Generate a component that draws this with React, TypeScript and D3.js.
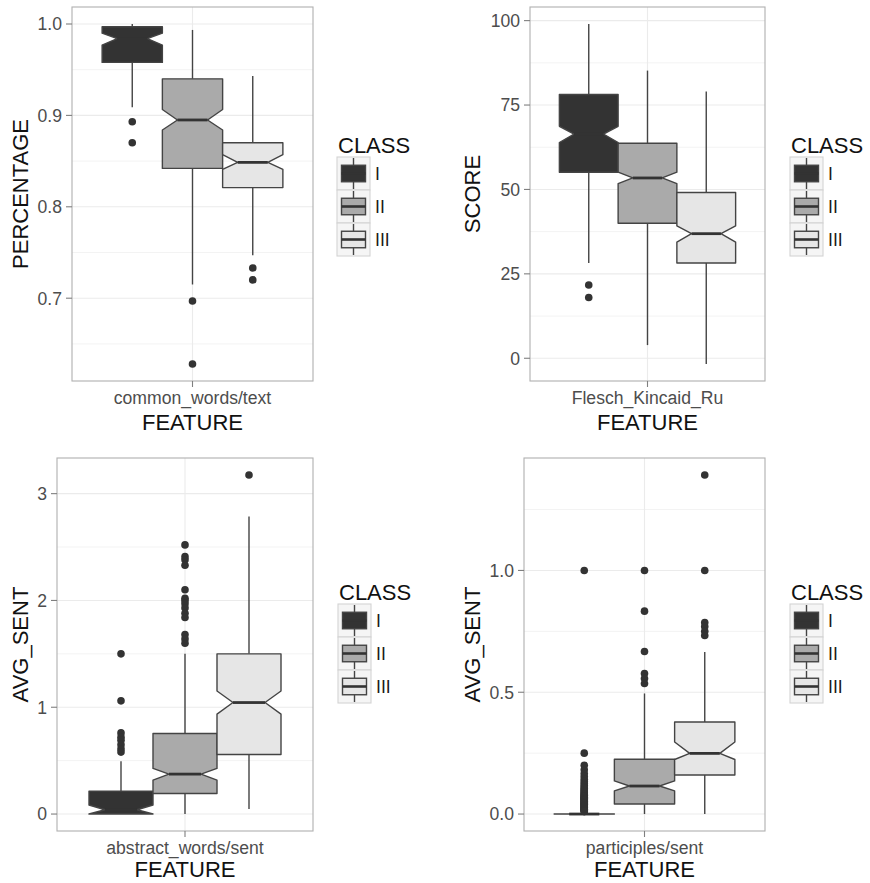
import * as d3 from "d3";

const classes = ["I", "II", "III"];

// each row: [whisker low, Q1, notch low, median, notch high, Q3, whisker high]
const commonWordsStats = [
  [0.909, 0.958, 0.977, 0.984, 0.990, 0.997, 1.0],
  [0.715, 0.842, 0.884, 0.895, 0.9065, 0.940, 0.9935],
  [0.747, 0.821, 0.841, 0.8486, 0.857, 0.870, 0.943],
];
const commonWordsOutliers = [[0.893, 0.870], [0.697, 0.628], [0.733, 0.720]];
const commonWordsTicks = [0.7, 0.8, 0.9, 1.0];

const fleschStats = [
  [28.2, 55.1, 63.9, 66.4, 68.7, 78.1, 99.0],
  [3.9, 40.0, 51.7, 53.4, 55.1, 63.7, 85.2],
  [-1.7, 28.2, 34.4, 36.9, 39.2, 49.1, 79.0],
];
const fleschOutliers = [[21.7, 18.0], [], []];
const fleschTicks = [0, 25, 50, 75, 100];

const abstractStats = [
  [0, 0, 0.0, 0.04, 0.085, 0.215, 0.495],
  [0, 0.193, 0.318, 0.374, 0.427, 0.754, 1.5],
  [0.047, 0.558, 0.935, 1.044, 1.152, 1.5, 2.785],
];
const abstractOutliers = [
  [1.5, 1.06, 0.76, 0.72, 0.69, 0.65, 0.61, 0.58],
  [2.52, 2.41, 2.38, 2.33, 2.1, 2.02, 2.0, 1.97, 1.93, 1.88, 1.84, 1.68, 1.64, 1.6],
  [3.175],
];
const abstractTicks = [0, 1, 2, 3];

const participlesStats = [
  [0, 0, 0, 0, 0, 0, 0],
  [0, 0.041, 0.095, 0.115, 0.136, 0.225, 0.495],
  [0, 0.16, 0.224, 0.249, 0.296, 0.378, 0.665],
];
const participlesOutliers = [
  [1.0, 0.25, 0.2, 0.1818, 0.1667, 0.1538, 0.1429, 0.1333, 0.125, 0.1176, 0.1111, 0.1053, 0.1,
    0.0952, 0.0909, 0.087, 0.0833, 0.08, 0.0769, 0.0741, 0.0714, 0.069, 0.0667, 0.0645, 0.0625,
    0.06, 0.0588, 0.0556, 0.0526, 0.05, 0.0476, 0.0455, 0.0435, 0.0417, 0.04, 0.037, 0.0345,
    0.0333, 0.0303, 0.0286, 0.027, 0.025, 0.0222, 0.02, 0.0182, 0.0167, 0.0143, 0.0125, 0.01],
  [1.0, 0.833, 0.667, 0.577, 0.556, 0.536],
  [1.392, 1.0, 0.786, 0.77, 0.75, 0.733],
];
const participlesTicks = [0, 0.5, 1.0];

const fills = ["#333333", "#aaaaaa", "#e6e6e6"];
const font = "'Liberation Sans', Arial, Helvetica, sans-serif";

const panels = [
  { feature: "common_words/text", yLabel: "PERCENTAGE", stats: commonWordsStats, outliers: commonWordsOutliers,
    ticks: commonWordsTicks, fmt: ".1f", x0: 72, x1: 313, y0: 7, y1: 381, yTitleX: 20, legendX: 337, legendY: 153, titleOff: 49 },
  { feature: "Flesch_Kincaid_Ru", yLabel: "SCORE", stats: fleschStats, outliers: fleschOutliers,
    ticks: fleschTicks, fmt: "d", x0: 530, x1: 765, y0: 7, y1: 381, yTitleX: 472, legendX: 790, legendY: 153, titleOff: 49 },
  { feature: "abstract_words/sent", yLabel: "AVG_SENT", stats: abstractStats, outliers: abstractOutliers,
    ticks: abstractTicks, fmt: "d", x0: 57, x1: 313, y0: 458, y1: 831, yTitleX: 20, legendX: 338, legendY: 600, titleOff: 46 },
  { feature: "participles/sent", yLabel: "AVG_SENT", stats: participlesStats, outliers: participlesOutliers,
    ticks: participlesTicks, fmt: ".1f", x0: 524, x1: 765, y0: 458, y1: 831, yTitleX: 472, legendX: 790, legendY: 600, titleOff: 46 },
];

function BoxPanel({ p }) {
  const all = p.stats.flat().concat(p.outliers.flat());
  const [lo, hi] = d3.extent(all);
  const pad = (hi - lo) * 0.05;
  const y = d3.scaleLinear([lo - pad, hi + pad], [p.y1, p.y0]);
  const xf = d3.scaleBand([p.feature], [p.x0, p.x1]).paddingInner(0).paddingOuter(1 / 6);
  const xc = d3.scaleBand(classes, [0, xf.bandwidth()]);
  const fmt = d3.format(p.fmt);
  const step = p.ticks[1] - p.ticks[0];
  const [dlo, dhi] = y.domain();
  const minor = d3.range(p.ticks[0] - step / 2, dhi, step).filter((v) => v > dlo && v < dhi);
  const xMid = xf(p.feature) + xf.bandwidth() / 2;
  const line = d3.line();

  return (
    <g>
      <rect x={p.x0} y={p.y0} width={p.x1 - p.x0} height={p.y1 - p.y0} fill="#fff" />
      {minor.map((v) => (
        <line key={"m" + v} x1={p.x0} x2={p.x1} y1={y(v)} y2={y(v)} stroke="#f3f3f3" strokeWidth={1} />
      ))}
      {p.ticks.map((v) => (
        <line key={"g" + v} x1={p.x0} x2={p.x1} y1={y(v)} y2={y(v)} stroke="#ebebeb" strokeWidth={1.1} />
      ))}
      <line x1={xMid} x2={xMid} y1={p.y0} y2={p.y1} stroke="#ebebeb" strokeWidth={1.1} />

      {classes.map((c, i) => {
        const [wl, q1, nl, med, nu, q3, wh] = p.stats[i];
        const bx0 = xf(p.feature) + xc(c);
        const bx1 = bx0 + xc.bandwidth();
        const cx = (bx0 + bx1) / 2;
        const ind = 0.25 * (bx1 - bx0);
        const pts = [
          [bx0, y(q3)], [bx0, y(nu)], [bx0 + ind, y(med)], [bx0, y(nl)], [bx0, y(q1)],
          [bx1, y(q1)], [bx1, y(nl)], [bx1 - ind, y(med)], [bx1, y(nu)], [bx1, y(q3)],
        ];
        return (
          <g key={c}>
            <line x1={cx} x2={cx} y1={y(q3)} y2={y(wh)} stroke="#444" strokeWidth={1.4} />
            <line x1={cx} x2={cx} y1={y(q1)} y2={y(wl)} stroke="#444" strokeWidth={1.4} />
            <path d={line(pts) + "Z"} fill={fills[i]} stroke="#444" strokeWidth={1.4} strokeLinejoin="round" />
            <line x1={bx0 + ind} x2={bx1 - ind} y1={y(med)} y2={y(med)} stroke="#333" strokeWidth={2.8} />
            {p.outliers[i].map((v, j) => (
              <circle key={j} cx={cx} cy={y(v)} r={3.8} fill="#333" />
            ))}
          </g>
        );
      })}

      <rect x={p.x0} y={p.y0} width={p.x1 - p.x0} height={p.y1 - p.y0} fill="none" stroke="#b0b0b0" strokeWidth={1.1} />

      {/* y axis */}
      {p.ticks.map((v) => (
        <g key={"t" + v}>
          <line x1={p.x0 - 6} x2={p.x0} y1={y(v)} y2={y(v)} stroke="#7f7f7f" strokeWidth={1.1} />
          <text x={p.x0 - 10} y={y(v)} dy="0.36em" textAnchor="end" fontSize={17.6} fill="#4d4d4d" fontFamily={font}>
            {fmt(v)}
          </text>
        </g>
      ))}
      <text transform={`translate(${p.yTitleX},${(p.y0 + p.y1) / 2}) rotate(-90)`} dy="0.36em" textAnchor="middle"
        fontSize={22} fill="#111" fontFamily={font}>
        {p.yLabel}
      </text>

      {/* x axis */}
      <line x1={xMid} x2={xMid} y1={p.y1} y2={p.y1 + 6} stroke="#7f7f7f" strokeWidth={1.1} />
      <text x={xMid} y={p.y1 + 23} textAnchor="middle" fontSize={17.6} fill="#4d4d4d" fontFamily={font}>
        {p.feature}
      </text>
      <text x={xMid} y={p.y1 + p.titleOff} textAnchor="middle" fontSize={22} fill="#111" fontFamily={font}>
        FEATURE
      </text>

      {/* legend */}
      <text x={p.legendX + 1} y={p.legendY} fontSize={22} fill="#111" fontFamily={font}>CLASS</text>
      {classes.map((c, i) => {
        const kx = p.legendX;
        const ky = p.legendY + 4 + i * 33;
        const k = 33;
        return (
          <g key={"k" + c}>
            <rect x={kx} y={ky} width={k} height={k} fill="#f5f5f5" stroke="#d4d4d4" strokeWidth={1.1} />
            <line x1={kx + k / 2} x2={kx + k / 2} y1={ky + 1} y2={ky + k - 1} stroke="#444" strokeWidth={1.4} />
            <rect x={kx + 4.5} y={ky + k * 0.25} width={k - 9} height={k * 0.5} fill={fills[i]} stroke="#444" strokeWidth={1.4} />
            <line x1={kx + 4.5} x2={kx + k - 4.5} y1={ky + k / 2} y2={ky + k / 2} stroke="#333" strokeWidth={2.6} />
            <text x={kx + 38} y={ky + k / 2} dy="0.36em" fontSize={17.6} fill="#1a1a1a" fontFamily={font}>{c}</text>
          </g>
        );
      })}
    </g>
  );
}

export default function App() {
  return (
    <svg width={870} height={883} style={{ position: "absolute", left: 0, top: 0, background: "#fff" }}>
      <rect width={870} height={883} fill="#fff" />
      {panels.map((p) => (
        <BoxPanel key={p.feature} p={p} />
      ))}
    </svg>
  );
}
